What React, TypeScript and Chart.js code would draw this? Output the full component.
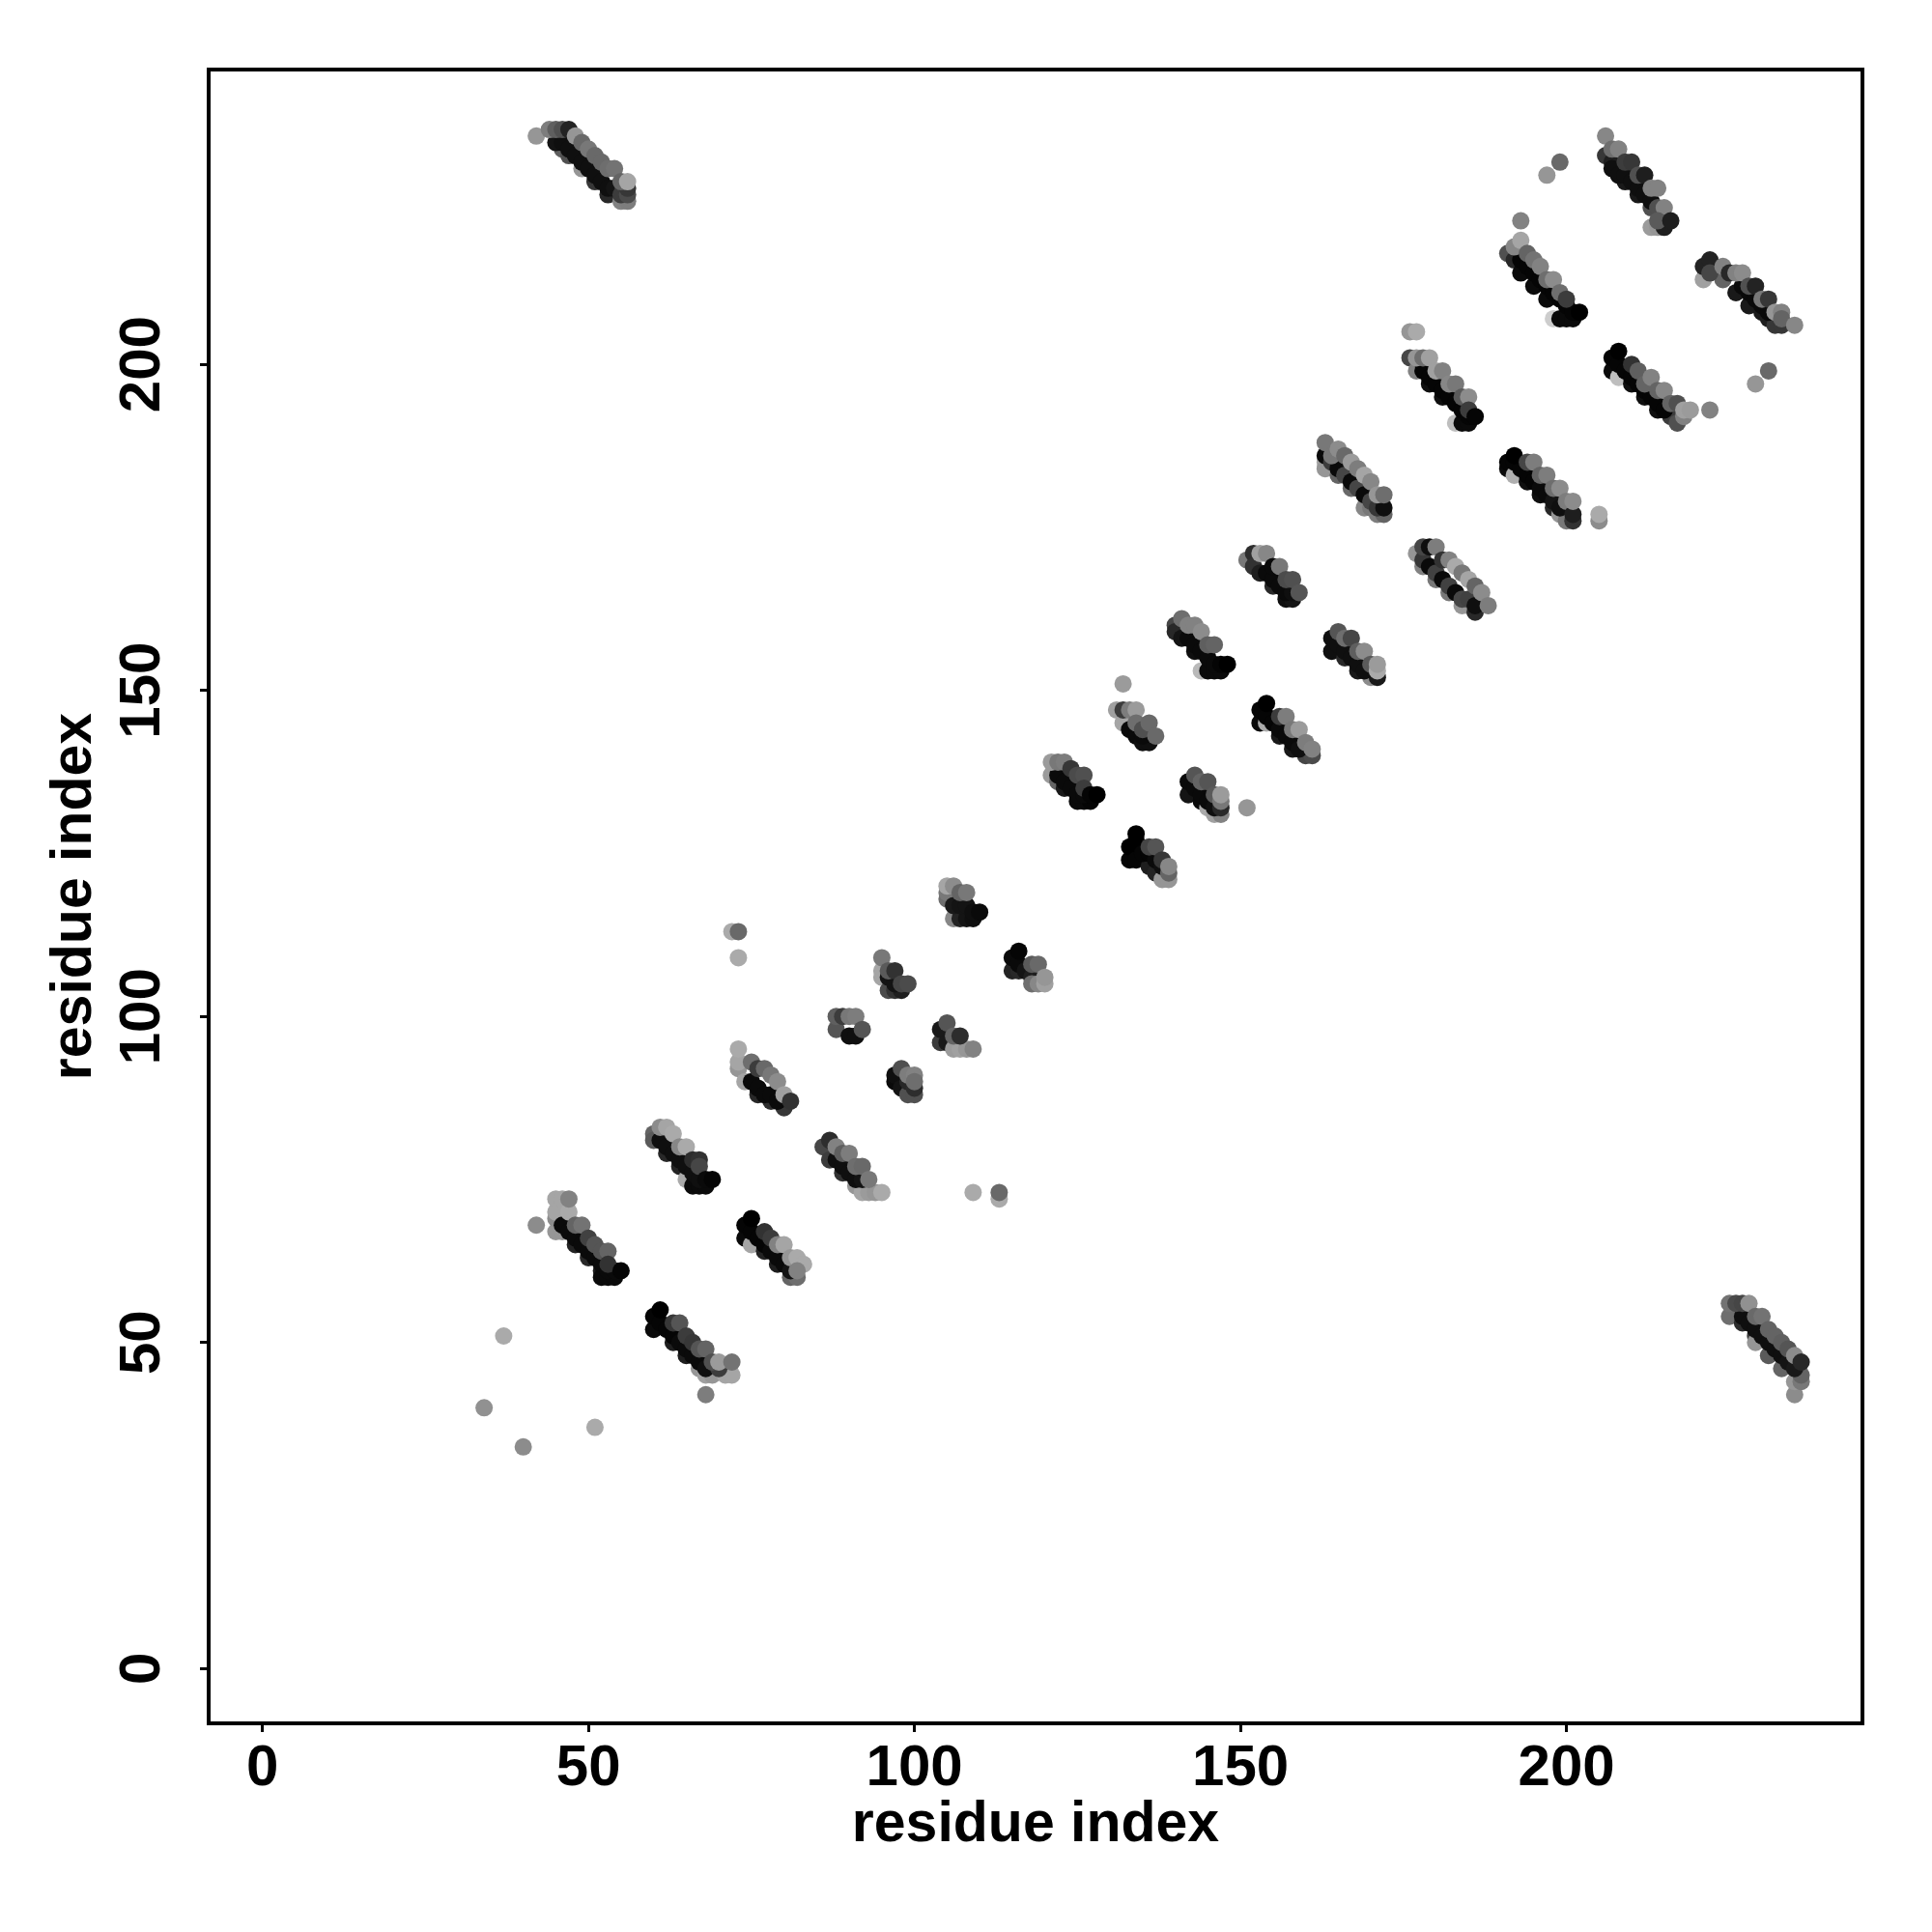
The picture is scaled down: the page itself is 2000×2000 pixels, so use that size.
import React, { useEffect, useRef } from "react";
import { Chart, registerables } from "chart.js";

Chart.register(...registerables);

// Each tuple: [residue i, residue j, grey level of the contact]
type Contact = [number, number, number];

const tickValues = [0, 50, 100, 150, 200];
const axisLabel = "residue index";

const isolated: Contact[] = [
  [34, 40, 145], [37, 51, 170], [40, 34, 140], [51, 37, 170], [42, 68, 140], [68, 42, 125],
  [72, 113, 170], [73, 113, 105], [73, 109, 170], [109, 73, 170], [113, 72, 170], [113, 73, 105],
  [132, 151, 155], [151, 132, 150], [193, 222, 130], [197, 229, 150], [199, 231, 105],
  [222, 193, 130], [229, 197, 150], [231, 199, 105], [205, 176, 140], [205, 177, 170],
  [176, 205, 150], [177, 205, 170], [42, 235, 150],
];
const strand01: Contact[] = [
  [46,233,95],[47,232,80],[49,230,150],[51,228,55],[53,226,40],[55,225,130],[56,225,125],
  [45,234,20],[46,234,15],[47,233,15],[48,232,15],[49,231,15],[50,230,15],[51,229,15],[52,228,15],[53,227,15],[54,227,20],[55,226,60],[56,226,75],[56,227,55],
  [44,236,125],[45,236,95],[46,236,80],[47,236,35],[48,235,150],[49,234,105],[50,233,120],[51,232,105],[52,231,105],[53,230,110],[54,230,115],[55,228,100],[56,228,165],
];
const strand02: Contact[] = [
  [45,67,150],[45,69,140],[46,67,150],[48,65,35],[50,63,40],[52,61,30],[52,60,10],[53,60,10],[54,60,10],
  [45,70,165],[46,68,10],[47,67,10],[48,66,10],[49,65,10],[50,64,10],[51,63,10],[52,62,10],[53,61,10],[54,61,10],
  [45,72,165],[46,72,165],[47,70,170],[47,72,130],[48,68,100],[49,68,115],[50,66,65],[51,65,85],[52,64,85],[53,64,100],[53,62,50],[55,61,5],
];
const strand03: Contact[] = [
  [60,52,10],[60,54,5],[63,50,30],[65,48,30],[67,46,150],[68,45,160],[69,45,150],[71,45,165],[72,45,165],
  [61,53,5],[62,52,5],[63,51,5],[64,50,10],[65,49,10],[66,48,10],[67,47,10],[68,46,15],[70,46,60],
  [61,55,0],[63,53,55],[64,53,85],[65,51,60],[66,50,55],[67,49,85],[68,49,100],[69,47,80],[70,47,155],[72,47,115],
];
const strand04: Contact[] = [
  [60,82,100],[60,81,90],[62,79,40],[64,77,35],[65,75,170],[66,74,10],[67,74,10],[68,74,10],
  [61,81,15],[62,80,15],[63,79,15],[64,78,15],[65,77,15],[66,76,15],[67,75,15],
  [61,83,140],[62,83,165],[63,82,170],[64,80,135],[65,80,170],[66,78,45],[67,78,50],[67,77,70],[68,75,10],[69,75,5],
];
const strand05: Contact[] = [
  [73,92,150],[73,93,165],[74,90,165],[76,88,40],[78,87,45],[80,86,55],
  [75,90,10],[76,89,10],[77,88,10],[78,88,10],[79,87,10],
  [73,95,170],[75,93,110],[76,92,60],[77,92,105],[78,91,120],[79,90,140],[80,88,160],[81,87,50],
];
const strand06: Contact[] = [
  [74,66,10],[74,68,5],[75,65,165],[77,64,35],[79,62,30],[81,60,100],[82,60,110],
  [75,67,5],[76,66,5],[77,65,5],[78,64,10],[79,63,10],[80,62,10],[81,61,20],
  [75,69,0],[77,67,50],[78,66,60],[79,65,130],[80,65,165],[81,63,150],[82,63,170],[83,62,170],[82,61,130],
];
const strand07: Contact[] = [
  [86,80,70],[87,78,60],[89,76,50],[91,74,150],[92,73,165],[93,73,155],[94,73,150],
  [88,78,15],[89,77,15],[90,76,15],[91,75,15],[92,75,20],
  [87,81,45],[88,80,130],[89,79,95],[90,79,125],[91,77,110],[92,77,105],[93,75,120],[95,73,170],
];
const strand08: Contact[] = [
  [88,98,85],[88,100,95],[90,97,15],[91,97,15],[89,100,60],[90,100,120],[91,100,125],[92,98,85],
];
const strand09: Contact[] = [
  [95,106,165],[95,107,165],[96,104,75],[97,104,50],[98,104,30],[96,106,20],[97,105,20],[95,109,120],[96,107,90],[97,107,50],[98,105,70],[99,105,75],
];
const strand10: Contact[] = [
  [97,90,10],[97,91,15],[98,89,20],[99,88,80],[100,88,80],[99,90,40],[100,89,45],[98,92,80],[99,91,125],[100,91,130],[100,90,110],
];
const strand11: Contact[] = [
  [104,96,60],[104,98,25],[105,96,25],[106,95,155],[107,95,160],[108,95,150],[105,99,85],[106,97,100],[107,97,45],[109,95,130],
];
const strand12: Contact[] = [
  [105,118,110],[105,119,120],[106,115,135],[107,115,35],[108,115,20],[109,115,15],[106,117,25],[107,117,20],[108,117,20],
  [105,120,165],[106,120,140],[107,119,100],[108,119,120],[109,116,15],[110,116,10],
];
const strand13: Contact[] = [
  [115,107,35],[116,107,40],[115,109,10],[116,108,10],[116,110,5],[117,107,20],[118,106,30],[118,105,110],[119,105,135],[120,105,160],
  [118,108,90],[119,108,105],[120,106,150],
];
const strand14: Contact[] = [
  [121,137,155],[122,136,100],[123,135,25],[125,133,10],[126,133,10],[127,133,5],
  [122,137,10],[123,136,10],[124,135,10],[125,134,10],[126,134,10],
  [121,139,155],[122,139,120],[123,139,125],[124,138,55],[125,137,75],[126,137,80],[126,135,60],[127,134,5],[128,134,0],
];
const strand15: Contact[] = [
  [133,124,5],[133,126,0],[134,124,5],[136,123,30],[137,122,35],[138,121,150],[139,121,150],
  [134,127,0],[135,125,5],[136,125,5],[137,124,10],[138,123,15],
  [134,128,0],[136,126,70],[137,126,85],[138,124,55],[139,122,100],[139,123,135],
];
const strand16: Contact[] = [
  [131,147,160],[132,145,165],[133,144,10],[134,143,10],[135,142,15],[136,142,15],[135,143,10],
  [132,147,60],[133,147,125],[134,147,155],[134,145,110],[135,144,80],[136,145,105],[137,143,105],
];
const strand17: Contact[] = [
  [142,134,20],[142,136,10],[144,133,10],[145,132,170],[146,131,160],[147,131,130],
  [143,135,10],[144,134,10],[145,133,10],[146,132,15],
  [143,137,85],[144,136,100],[145,136,85],[146,134,90],[147,132,40],[147,133,120],[147,134,155],
];
const strand18: Contact[] = [
  [140,160,70],[140,159,40],[141,158,20],[143,156,15],[144,153,185],[145,153,10],[146,153,10],[147,153,10],
  [142,158,10],[143,157,10],[144,156,10],[145,155,10],[146,154,10],
  [141,161,110],[142,160,130],[143,160,130],[144,159,140],[145,157,95],[146,157,100],[147,154,5],[148,154,0],
];
const strand19: Contact[] = [
  [153,145,10],[153,147,5],[154,145,170],[156,143,25],[158,141,25],[160,140,70],[161,140,75],
  [154,146,5],[155,145,5],[156,144,10],[157,143,10],[158,142,10],[159,141,15],
  [154,148,0],[156,146,60],[157,146,125],[158,144,120],[159,144,155],[160,142,125],[161,141,130],
];
const strand20: Contact[] = [
  [151,170,120],[152,171,45],[152,169,50],[153,168,30],[155,166,40],[157,164,15],[158,164,20],
  [154,168,10],[155,167,10],[156,166,10],[157,165,10],[158,165,15],
  [153,171,160],[154,171,135],[155,169,10],[156,169,120],[157,167,75],[158,167,80],[159,165,85],
];
const strand21: Contact[] = [
  [164,156,15],[164,158,15],[166,155,40],[168,153,25],[170,152,140],[171,152,25],
  [165,157,15],[166,156,15],[167,155,15],[168,154,15],[169,153,15],
  [165,159,85],[166,158,110],[167,158,70],[168,156,95],[169,156,140],[170,154,90],[171,153,170],[171,154,155],
];
const strand22: Contact[] = [
  [163,185,165],[163,184,150],[165,183,100],[167,181,105],[169,178,135],[170,178,120],[171,177,125],[172,177,100],
  [163,186,10],[164,185,60],[165,184,10],[166,183,70],[167,182,10],[168,181,70],[169,180,10],[170,179,70],[171,178,55],[172,178,15],
  [163,188,120],[164,186,120],[165,187,140],[166,186,105],[167,185,155],[168,184,125],[169,183,165],[170,182,135],[171,180,150],[172,180,110],
];
const strand23: Contact[] = [
  [177,171,150],[178,169,130],[180,167,120],[182,165,120],[184,163,150],[185,163,150],[186,162,40],
  [178,170,55],[179,169,10],[180,168,65],[181,167,10],[182,166,65],[183,165,10],[184,164,70],[185,164,65],[186,163,15],
  [178,172,70],[179,172,15],[180,172,125],[181,170,50],[182,170,130],[183,169,170],[184,168,120],[185,167,165],[186,166,100],[187,165,140],[188,163,125],
];
const strand24: Contact[] = [
  [176,201,70],[177,199,130],[178,200,90],[179,197,15],[181,195,15],[183,191,190],[184,191,10],[185,191,10],
  [178,199,5],[179,198,5],[180,197,5],[181,196,5],[182,195,5],[183,194,5],[184,193,5],[185,192,5],
  [177,201,150],[178,201,110],[179,201,160],[180,199,160],[181,199,130],[182,197,135],[183,197,120],[184,195,90],[185,195,140],[185,193,60],[186,192,5],
];
const strand25: Contact[] = [
  [191,184,10],[191,185,5],[192,183,175],[194,182,15],[196,180,15],[198,178,40],[199,177,150],[200,176,120],[201,176,50],
  [192,185,5],[193,184,5],[194,183,5],[195,182,5],[196,181,10],[197,180,10],[198,179,20],[199,178,15],
  [192,186,0],[194,185,70],[195,185,125],[196,183,100],[197,183,125],[198,181,110],[199,181,140],[200,179,125],[201,177,30],[201,179,140],
];
const strand26: Contact[] = [
  [191,217,80],[192,216,40],[193,214,10],[195,212,10],[197,210,10],[198,207,205],[199,207,10],[200,207,10],[201,207,10],
  [193,216,5],[194,215,5],[195,214,5],[196,213,5],[197,212,5],[198,211,5],[199,210,5],[200,209,5],[201,208,5],
  [192,218,135],[193,219,165],[194,217,100],[195,216,115],[196,215,130],[197,213,110],[198,213,140],[199,211,110],[200,210,60],[202,208,0],
];
const strand27: Contact[] = [
  [207,199,10],[207,201,5],[208,198,190],[210,197,15],[212,195,15],[214,193,15],[216,192,60],[217,191,80],
  [208,200,5],[209,199,5],[210,198,5],[211,197,5],[212,196,5],[213,195,5],[214,194,5],[215,193,5],
  [208,202,0],[210,200,50],[211,199,95],[212,197,100],[213,198,130],[214,196,100],[215,196,135],[216,194,100],[217,194,80],[218,192,130],[218,193,160],[219,193,155],
];
const strand28: Contact[] = [
  [206,232,55],[207,231,30],[209,228,25],[211,226,25],[213,224,80],[213,221,155],[214,221,150],[215,221,30],
  [207,230,15],[208,229,15],[209,229,15],[210,228,15],[211,227,15],[212,226,15],[213,225,15],
  [206,235,135],[207,233,110],[208,233,130],[209,231,60],[210,231,55],[211,229,80],[212,229,30],[213,227,130],[214,227,130],[214,224,80],[215,224,130],[214,222,90],[216,222,30],
];
const strand29: Contact[] = [
  [221,213,160],[221,215,35],[224,213,100],[226,211,25],[228,209,25],[230,208,25],[231,207,30],[232,206,55],[233,206,55],
  [227,212,10],[228,211,10],[229,210,10],[230,209,10],[231,208,10],
  [222,216,35],[222,214,70],[224,215,130],[225,214,40],[226,214,130],[227,214,140],[228,212,80],[229,212,35],[230,210,120],[231,210,55],[232,208,150],[233,208,130],[233,207,100],[235,206,135],
];
const strand30: Contact[] = [
  [225,54,110],[225,56,115],[227,53,45],[229,51,60],[229,50,150],[231,48,90],[233,46,100],[235,42,140],[235,44,150],[236,44,120],[236,45,100],
  [227,54,15],[228,53,15],[229,52,15],[230,51,15],[231,50,15],[232,49,15],[233,48,15],[234,47,20],[235,46,25],
  [226,56,75],[227,56,70],[228,56,145],[229,54,105],[230,54,115],[231,52,100],[232,51,100],[233,50,95],[234,49,85],[235,48,140],[236,47,40],
];

const contacts: Contact[] = [
  isolated, strand01, strand02, strand03, strand04, strand05, strand06, strand07, strand08, strand09, strand10,
  strand11, strand12, strand13, strand14, strand15, strand16, strand17, strand18, strand19, strand20,
  strand21, strand22, strand23, strand24, strand25, strand26, strand27, strand28, strand29, strand30,
].flat();

const FONT = { family: "'Liberation Sans', Arial, sans-serif", weight: "bold" as const, size: 60 };

const frame = {
  id: "frame",
  afterDraw(chart: Chart) {
    const { ctx, chartArea: a } = chart;
    ctx.save();
    ctx.strokeStyle = "#000";
    ctx.lineWidth = 4;
    ctx.strokeRect(a.left, a.top, a.right - a.left, a.bottom - a.top);
    ctx.restore();
  },
};

export default function App() {
  const ref = useRef<HTMLCanvasElement>(null);
  useEffect(() => {
    const chart = new Chart(ref.current!, {
      type: "scatter",
      plugins: [frame],
      data: {
        datasets: [
          {
            data: contacts.map(([x, y]) => ({ x, y })),
            pointRadius: 9,
            pointBorderWidth: 0,
            pointHoverRadius: 9,
            pointBackgroundColor: contacts.map(([, , g]) => `rgb(${g},${g},${g})`),
          },
        ],
      },
      options: {
        responsive: false,
        animation: false,
        devicePixelRatio: 1,
        layout: { autoPadding: false, padding: { top: 72, right: 72, left: 0, bottom: 0 } },
        plugins: { legend: { display: false }, tooltip: { enabled: false } },
        scales: {
          x: {
            type: "linear",
            min: -8.25,
            max: 245.4,
            afterFit: (s: any) => { s.height = 216; },
            afterBuildTicks: (s: any) => { s.ticks = tickValues.map((value) => ({ value })); },
            border: { color: "#000", width: 4 },
            grid: { drawOnChartArea: false, tickLength: 9, tickWidth: 3, tickColor: "#000" },
            ticks: { color: "#000", font: FONT, padding: 2, maxRotation: 0, autoSkip: false },
            title: { display: true, text: axisLabel, color: "#000", font: { ...FONT, size: 59 }, padding: { bottom: 75, top: 0 } },
          },
          y: {
            type: "linear",
            min: -8.4,
            max: 245.2,
            afterFit: (s: any) => { s.width = 216; },
            afterBuildTicks: (s: any) => { s.ticks = tickValues.map((value) => ({ value })); },
            border: { color: "#000", width: 4 },
            grid: { drawOnChartArea: false, tickLength: 9, tickWidth: 3, tickColor: "#000" },
            ticks: { color: "#000", font: FONT, padding: 8, minRotation: 90, maxRotation: 90, crossAlign: "center", autoSkip: false },
            title: { display: true, text: axisLabel, color: "#000", font: { ...FONT, size: 59 }, padding: { top: 42, bottom: 0 } },
          },
        },
      },
    } as any);
    return () => chart.destroy();
  }, []);
  return (
    <div style={{ position: "fixed", left: 0, top: 0, width: 2000, height: 2000, background: "#fff" }}>
      <canvas ref={ref} width={2000} height={2000} style={{ display: "block" }} />
    </div>
  );
}
